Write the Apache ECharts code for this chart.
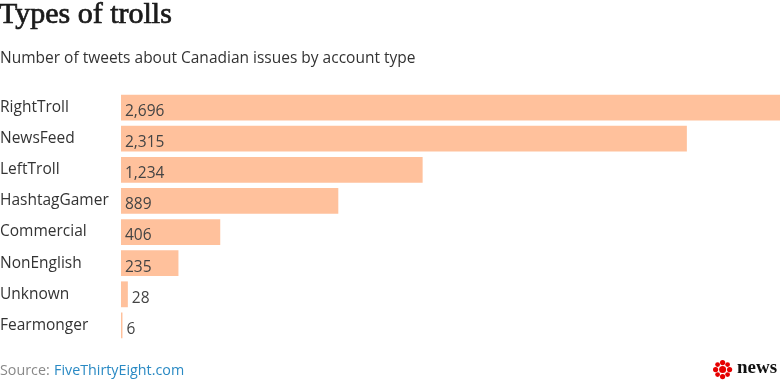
<!DOCTYPE html>
<html><head><meta charset="utf-8">
<script src="https://cdn.jsdelivr.net/npm/echarts@6/dist/echarts.min.js"></script>
<style>html,body{margin:0;padding:0;background:#fff}#c{width:780px;height:384px}</style>
</head><body><div id="c"></div>
<script>
const categories = ["RightTroll","NewsFeed","LeftTroll","HashtagGamer","Commercial","NonEnglish","Unknown","Fearmonger"];
const tweets = [2696, 2315, 1234, 889, 406, 235, 28, 6];
const titleText = "Types of trolls";
const subtitleText = "Number of tweets about Canadian issues by account type";

const chart = echarts.init(document.getElementById('c'), null, {renderer:'canvas'});
const data = tweets.map(v => ({
  value: v,
  label: v < 100 ? {position:'right', distance: 4} : {position:'insideLeft', distance: 4}
}));
chart.setOption({
  animation:false,
  title:[{
    text:titleText, left:-1, top:0, padding:0,
    textStyle:{fontFamily:'Liberation Serif', fontSize:30, fontWeight:'normal', color:'#1a1a1a',
      textBorderColor:'#1a1a1a', textBorderWidth:0.7}
  },{
    text:subtitleText, left:0, top:51, padding:0,
    textStyle:{fontFamily:'Open Sans', fontSize:15.5, fontWeight:'normal', color:'#333'}
  }],
  grid:{left:121, right:0, top:92, bottom:43, outerBoundsMode:'none', containLabel:false},
  xAxis:{type:'value', min:0, max:2696, show:false},
  yAxis:{type:'category', data:categories, inverse:true,
    axisLine:{show:false}, axisTick:{show:false},
    axisLabel:{align:'left', margin:121, fontFamily:'Open Sans', fontSize:15.5, color:'#333',
      padding:[2,0,0,0]}},
  series:[{
    type:'bar', data:data, barCategoryGap:'17%',
    itemStyle:{color:'#ffc19c'},
    label:{show:true, fontFamily:'Open Sans', fontSize:15.5, color:'#444',
      formatter:p => p.value.toLocaleString('en-US'), offset:[0,4]}
  }],
  graphic:[
    {type:'text', left:0, top:364, style:{
      text:'Source: ', fontFamily:'Open Sans', fontSize:14.3, fill:'#888'}},
    {type:'text', left:54, top:364, style:{
      text:'FiveThirtyEight.com', fontFamily:'Open Sans', fontSize:14.3, fill:'#2a8ac4'}},
    {type:'group', left:713, top:360, children:[
      {type:'circle', shape:{cx:10,cy:10,r:3.5}, style:{fill:'#e60000'}},
      {type:'circle', shape:{cx:10,cy:3,r:2.6}, style:{fill:'#e60000'}},
      {type:'circle', shape:{cx:10,cy:17,r:2.6}, style:{fill:'#e60000'}},
      {type:'circle', shape:{cx:3,cy:10,r:2.6}, style:{fill:'#e60000'}},
      {type:'circle', shape:{cx:17,cy:10,r:2.6}, style:{fill:'#e60000'}},
      {type:'circle', shape:{cx:5,cy:5,r:2.4}, style:{fill:'#e60000'}},
      {type:'circle', shape:{cx:15,cy:5,r:2.4}, style:{fill:'#e60000'}},
      {type:'circle', shape:{cx:5,cy:15,r:2.4}, style:{fill:'#e60000'}},
      {type:'circle', shape:{cx:15,cy:15,r:2.4}, style:{fill:'#e60000'}}
    ]},
    {type:'text', left:737, top:359, style:{
      text:'news', fontFamily:'Liberation Serif', fontSize:19, fontWeight:'bold', fill:'#111'}}
  ]
});
</script></body></html>
